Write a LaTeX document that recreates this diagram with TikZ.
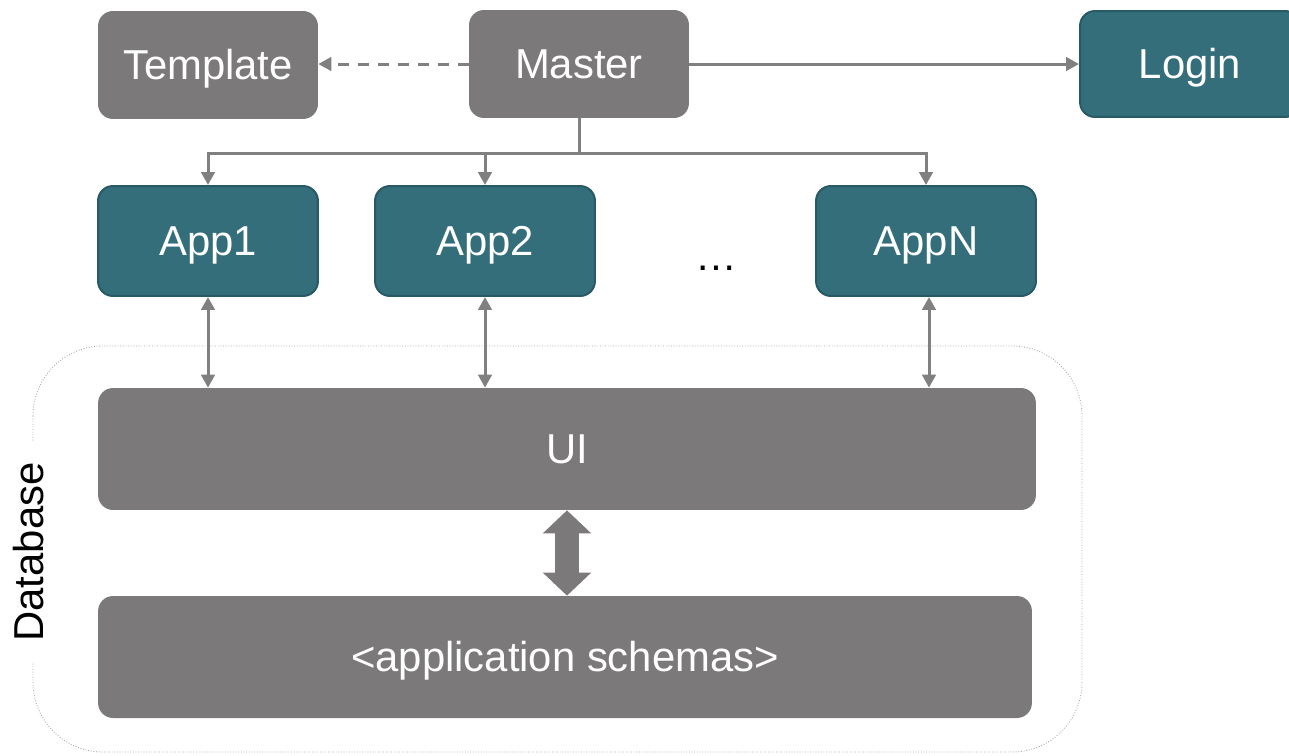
\documentclass[tikz,border=0pt]{standalone}
\usepackage{fontspec}
\setmainfont{Liberation Sans}
\usepackage{tikz}
\usetikzlibrary{arrows.meta}

\definecolor{boxgray}{HTML}{7B7979}
\definecolor{boxteal}{HTML}{346E7B}
\definecolor{tealedge}{HTML}{285A66}
\definecolor{linkgray}{HTML}{808080}
\definecolor{framegray}{HTML}{A8A8A8}

\begin{document}
\begin{tikzpicture}[x=0.02cm, y=-0.02cm]
    \tikzstyle{graybox} = [rectangle, rounded corners=0.3cm, fill=boxgray, text=white, inner sep=0pt, minimum width=4.4cm, minimum height=2.16cm, text height=0.58cm, text depth=0pt, font=\fontsize{23.8}{28}\selectfont]
    \tikzstyle{tealbox} = [graybox, fill=boxteal, draw=tealedge, line width=0.04cm, minimum height=2.2cm]
    \tikzstyle{layerbox} = [graybox, minimum height=2.44cm]
    \tikzstyle{link} = [draw=linkgray, line width=0.06cm, -{Triangle[length=0.26cm, width=0.27cm]}]
    \tikzstyle{twoway} = [link, {Triangle[length=0.26cm, width=0.27cm]}-{Triangle[length=0.26cm, width=0.27cm]}]
    \tikzstyle{fatlink} = [draw=boxgray, line width=0.48cm, {Triangle[length=0.46cm, width=0.94cm]}-{Triangle[length=0.46cm, width=0.94cm]}]
    \tikzstyle{dbframe} = [draw=framegray, densely dotted, line width=0.5pt, rounded corners=1.4cm]

    \useasboundingbox (0,0) rectangle (1289,755);

    % Database frame
    \draw[dbframe] (33,346) rectangle (1082,752);
    \node[rotate=90, fill=white, inner xsep=0.42cm, inner ysep=2pt, font=\fontsize{23.8}{28}\selectfont] (dblabel) at (29,552) {Database};

    % Top row
    \node[graybox] (template) at (208,65) {Template};
    \node[graybox] (master) at (579,64) {Master};
    \node[tealbox, minimum height=2.12cm] (login) at (1190,64) {Login};

    % Applications
    \node[tealbox] (app1) at (208,241) {App1};
    \node[tealbox] (app2) at (485,241) {App2};
    \node[tealbox] (appN) at (926,241) {AppN};
    \node[font=\fontsize{23.8}{28}\selectfont] (dots) at (716,268) {\ldots};

    % Layers
    \node[layerbox, minimum width=18.76cm] (ui) at (567,449) {UI};
    \node[layerbox, minimum width=18.68cm] (schema) at (565,657) {<application schemas>};

    % Master links
    \draw[link, dash pattern=on 0.22cm off 0.18cm] (master.west) -- (template.east |- master.west);
    \draw[link] (master.east) -- (login.west);
    \coordinate (bus) at (579,153);
    \draw[link] (master.south) -- (bus) -| (app1.north);
    \draw[link] (bus) -| (app2.north);
    \draw[link] (bus) -| (appN.north);

    % App <-> UI
    \draw[twoway] (app1.south) -- (app1.south |- ui.north);
    \draw[twoway] (app2.south) -- (app2.south |- ui.north);
    \draw[twoway] ([xshift=0.06cm]appN.south) -- ([xshift=0.06cm]appN.south |- ui.north);

    % UI <-> schemas
    \draw[fatlink] (ui.south) -- (ui.south |- schema.north);

\end{tikzpicture}
\end{document}
